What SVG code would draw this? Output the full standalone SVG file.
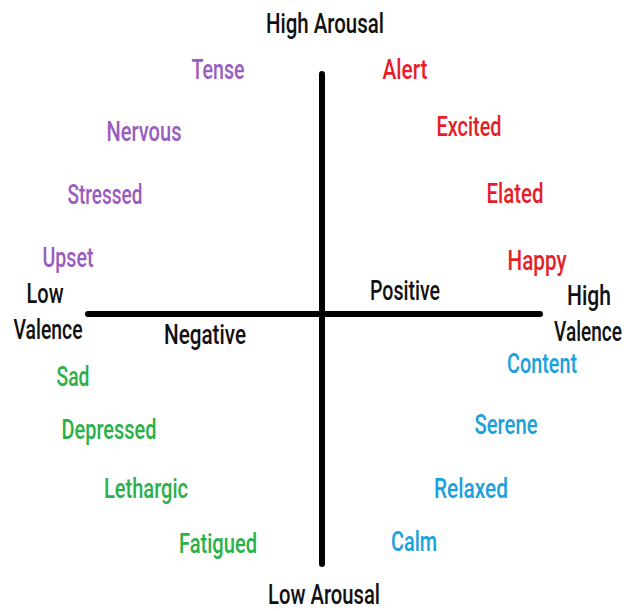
<svg xmlns="http://www.w3.org/2000/svg" width="631" height="611" viewBox="0 0 631 611">
<style>
text{font-family:Roboto,"Liberation Sans",Arial,sans-serif;font-size:28px;font-weight:500;text-anchor:middle}
.k{fill:#111}
.p{fill:#9a5cc0}
.r{fill:#e61e2a}
.g{fill:#2bb04a}
.b{fill:#1ba0de}
.ax{stroke:#000;stroke-width:6;stroke-linecap:round;fill:none}
</style>
<rect width="631" height="611" fill="#fff"/>
<g id="connectors">
<line class="ax" x1="322" y1="74" x2="322" y2="564"/>
<line class="ax" x1="88" y1="314" x2="540" y2="314"/>
</g>
<g id="axis-labels">
<text class="k" x="325" y="33" textLength="118" lengthAdjust="spacingAndGlyphs">High Arousal</text>
<text class="k" x="324" y="604" textLength="112" lengthAdjust="spacingAndGlyphs">Low Arousal</text>
<text class="k" x="45" y="303" textLength="37" lengthAdjust="spacingAndGlyphs">Low</text>
<text class="k" x="48" y="339" textLength="69" lengthAdjust="spacingAndGlyphs">Valence</text>
<text class="k" x="589" y="305" textLength="44" lengthAdjust="spacingAndGlyphs">High</text>
<text class="k" transform="translate(588,341) scale(0.68,1)">Valence</text>
<text class="k" x="405" y="300" textLength="70" lengthAdjust="spacingAndGlyphs">Positive</text>
<text class="k" x="205" y="344" textLength="82" lengthAdjust="spacingAndGlyphs">Negative</text>
</g>
<g id="tense"><text class="p" x="218" y="79" textLength="53" lengthAdjust="spacingAndGlyphs">Tense</text></g>
<g id="nervous"><text class="p" x="144" y="141" textLength="75" lengthAdjust="spacingAndGlyphs">Nervous</text></g>
<g id="stressed"><text class="p" x="105" y="204" textLength="75" lengthAdjust="spacingAndGlyphs">Stressed</text></g>
<g id="upset"><text class="p" x="68" y="267" textLength="51" lengthAdjust="spacingAndGlyphs">Upset</text></g>
<g id="alert"><text class="r" x="405" y="79" textLength="45" lengthAdjust="spacingAndGlyphs">Alert</text></g>
<g id="excited"><text class="r" x="469" y="136" textLength="65" lengthAdjust="spacingAndGlyphs">Excited</text></g>
<g id="elated"><text class="r" x="515" y="203" textLength="57" lengthAdjust="spacingAndGlyphs">Elated</text></g>
<g id="happy"><text class="r" x="537" y="270" textLength="59" lengthAdjust="spacingAndGlyphs">Happy</text></g>
<g id="sad"><text class="g" x="73" y="386" textLength="33" lengthAdjust="spacingAndGlyphs">Sad</text></g>
<g id="depressed"><text class="g" x="109" y="439" textLength="95" lengthAdjust="spacingAndGlyphs">Depressed</text></g>
<g id="lethargic"><text class="g" x="146" y="498" textLength="84" lengthAdjust="spacingAndGlyphs">Lethargic</text></g>
<g id="fatigued"><text class="g" x="218" y="553" textLength="78" lengthAdjust="spacingAndGlyphs">Fatigued</text></g>
<g id="content"><text class="b" x="542" y="373" textLength="70" lengthAdjust="spacingAndGlyphs">Content</text></g>
<g id="serene"><text class="b" x="506" y="434" textLength="63" lengthAdjust="spacingAndGlyphs">Serene</text></g>
<g id="relaxed"><text class="b" x="471" y="498" textLength="74" lengthAdjust="spacingAndGlyphs">Relaxed</text></g>
<g id="calm"><text class="b" x="414" y="551" textLength="46" lengthAdjust="spacingAndGlyphs">Calm</text></g>
</svg>
